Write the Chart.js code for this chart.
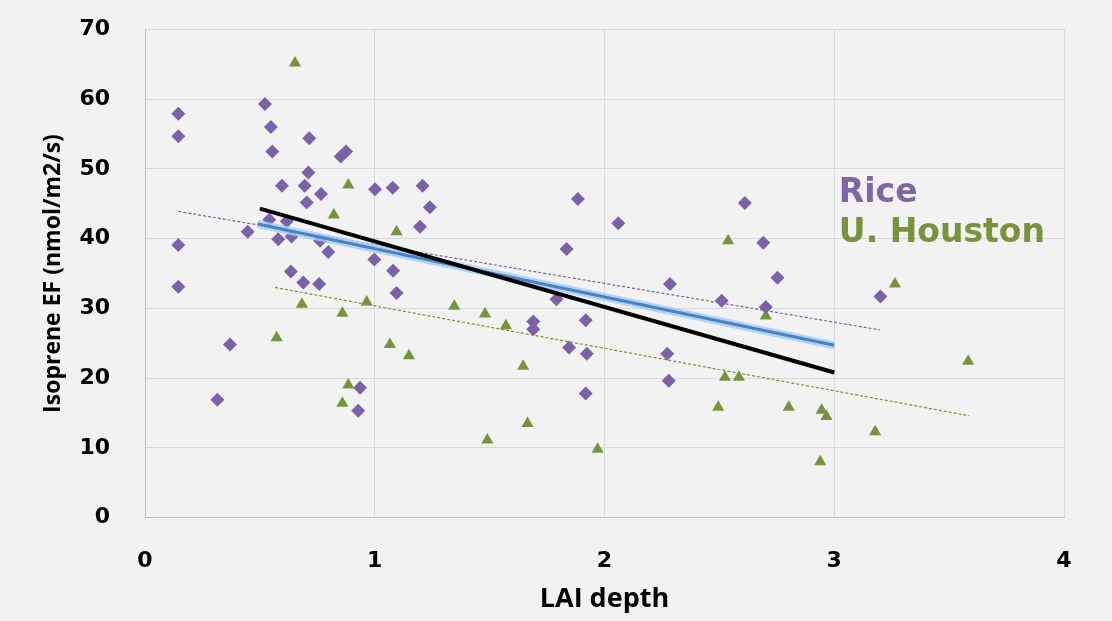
<!DOCTYPE html>
<html>
<head>
<meta charset="utf-8">
<script src="https://cdn.jsdelivr.net/npm/chart.js@4.4.0/dist/chart.umd.min.js"></script>
<style>
  body { margin: 0; background: #f2f2f2; }
  #wrap { width: 1112px; height: 621px; }
</style>
</head>
<body>
<div id="wrap"><canvas id="isopreneChart"></canvas></div>
<script>
// Rice measurements (purple diamonds)
const riceX = [0.145, 0.145, 0.522, 0.548, 0.715, 0.554, 0.852, 0.875, 0.711, 0.596, 0.695, 0.766, 0.704, 1.001, 1.078,
    0.541, 0.617, 0.447, 0.580, 0.638, 0.762, 0.798, 0.145, 0.998, 1.080, 0.635, 0.689, 0.758, 1.095, 0.145,
    0.370, 0.315, 0.936, 0.928, 1.208, 1.240, 1.197, 1.884, 2.060, 1.835, 1.791, 1.690, 1.690, 1.918, 1.846,
    1.923, 1.918, 2.611, 2.691, 2.753, 2.285, 2.510, 2.702, 3.201, 2.273, 2.280];
const riceY = [57.9, 54.7, 59.3, 56.0, 54.4, 52.5, 51.8, 52.5, 49.5, 47.6, 47.6, 46.4, 45.2, 47.1, 47.3,
    42.7, 42.5, 41.0, 39.9, 40.3, 39.7, 38.1, 39.1, 37.0, 35.4, 35.3, 33.7, 33.5, 32.2, 33.1,
    24.8, 16.9, 18.6, 15.3, 47.6, 44.5, 41.7, 45.7, 42.2, 38.5, 31.3, 28.1, 27.0, 28.3, 24.4,
    23.5, 17.8, 45.1, 39.4, 34.4, 33.5, 31.1, 30.2, 31.7, 23.5, 19.6];

// U. Houston measurements (green triangles)
const houstonX = [0.653, 0.885, 0.822, 1.095, 0.683, 0.859, 0.965, 0.573, 1.066, 0.885, 0.859, 1.346, 1.480, 1.571,
    1.149, 1.646, 1.665, 1.490, 1.970, 2.538, 2.702, 3.264, 2.524, 2.585, 2.495, 2.802, 2.945, 2.966, 3.178, 2.939, 3.583];
const houstonY = [65.2, 47.7, 43.4, 41.0, 30.6, 29.3, 30.9, 25.8, 24.8, 19.0, 16.4, 30.3, 29.2, 27.5,
    23.2, 21.7, 13.5, 11.1, 9.8, 39.7, 28.9, 33.5, 20.1, 20.1, 15.8, 15.8, 15.4, 14.5, 12.3, 8.0, 22.4];

// trend lines (end points)
const riceTrendX = [0.145, 3.2];
const riceTrendY = [43.9, 26.9];
const houstonTrendX = [0.566, 3.587];
const houstonTrendY = [33.0, 14.6];
const allTrendX = [0.5, 3.0];
const allTrendY = [44.3, 20.8];
const blueTrendX = [0.49, 3.0];
const blueTrendY = [42.1, 24.7];

const xTicks = [0, 1, 2, 3, 4];
const yTicks = [0, 10, 20, 30, 40, 50, 60, 70];

const labels = [
    { text: 'Rice', x: 3.02, y: 45.3, color: '#7b66a6' },
    { text: 'U. Houston', x: 3.02, y: 39.5, color: '#77933c' }
];

function toPoints(xs, ys) {
    return xs.map((x, i) => ({ x: x, y: ys[i] }));
}

const textLabels = {
    id: 'textLabels',
    afterDatasetsDraw(chart) {
        const ctx = chart.ctx;
        const xs = chart.scales.x, ys = chart.scales.y;
        ctx.save();
        ctx.font = 'bold 33px "DejaVu Sans"';
        ctx.textAlign = 'left';
        ctx.textBaseline = 'alphabetic';
        labels.forEach(l => {
            ctx.fillStyle = l.color;
            ctx.fillText(l.text, xs.getPixelForValue(l.x), ys.getPixelForValue(l.y));
        });
        ctx.restore();
    }
};

const ctx = document.getElementById('isopreneChart').getContext('2d');
new Chart(ctx, {
    type: 'scatter',
    data: {
        datasets: [
            {
                label: 'All',
                data: toPoints(allTrendX, allTrendY),
                showLine: true, borderColor: '#000', borderWidth: 4, pointRadius: 0, order: 1
            },
            {
                label: 'Blue',
                data: toPoints(blueTrendX, blueTrendY),
                showLine: true, borderColor: '#4a82c6', borderWidth: 3, pointRadius: 0, order: 2
            },
            {
                label: 'Blue glow',
                data: toPoints(blueTrendX, blueTrendY),
                showLine: true, borderColor: 'rgba(160,205,240,0.8)', borderWidth: 8, pointRadius: 0, order: 3
            },
            {
                label: 'Rice trend',
                data: toPoints(riceTrendX, riceTrendY),
                showLine: true, borderColor: '#8064a2', borderWidth: 1.2, borderDash: [3, 2], pointRadius: 0, order: 4
            },
            {
                label: 'Houston trend',
                data: toPoints(houstonTrendX, houstonTrendY),
                showLine: true, borderColor: '#77933c', borderWidth: 1.2, borderDash: [3, 2], pointRadius: 0, order: 5
            },
            {
                label: 'Rice',
                data: toPoints(riceX, riceY),
                pointStyle: 'rectRot', pointRadius: 7, pointHoverRadius: 7,
                backgroundColor: '#7b62a8', borderColor: '#7b62a8', borderWidth: 0, order: 6
            },
            {
                label: 'U. Houston',
                data: toPoints(houstonX, houstonY),
                pointStyle: 'triangle', pointRadius: 7, pointHoverRadius: 7,
                backgroundColor: '#77933c', borderColor: '#77933c', borderWidth: 0, order: 7
            }
        ]
    },
    options: {
        responsive: true,
        maintainAspectRatio: false,
        animation: false,
        layout: { padding: { top: 29.5, right: 48, bottom: 0, left: 0 } },
        plugins: {
            legend: { display: false },
            tooltip: { enabled: false }
        },
        scales: {
            x: {
                type: 'linear',
                min: 0, max: 4,
                afterFit: scale => { scale.height = 103.5; scale.paddingLeft = 0; scale.paddingRight = 0; },
                afterBuildTicks: scale => { scale.ticks = xTicks.map(v => ({ value: v })); },
                grid: { color: '#d9d9d9', drawTicks: false },
                border: { color: '#bfbfbf' },
                ticks: { color: '#000', padding: 31, font: { family: 'DejaVu Sans', size: 22, weight: 'bold' } },
                title: {
                    display: true, text: 'LAI depth', color: '#000',
                    padding: { top: 0, bottom: 5 },
                    font: { family: 'Open Sans', size: 27, weight: 'bold' }
                }
            },
            y: {
                type: 'linear',
                min: 0, max: 70,
                // tick padding would otherwise push the plot area down
                afterFit: scale => { scale.width = 145; scale.paddingTop = 0; scale.paddingBottom = 0; },
                afterBuildTicks: scale => { scale.ticks = yTicks.map(v => ({ value: v })); },
                grid: { color: '#d9d9d9', drawTicks: false },
                border: { color: '#bfbfbf' },
                ticks: { color: '#000', padding: 35, font: { family: 'DejaVu Sans', size: 22, weight: 'bold' } },
                title: {
                    display: true, text: 'Isoprene EF (nmol/m2/s)', color: '#000',
                    padding: { top: 40, bottom: 0 },
                    font: { family: 'Open Sans', size: 23, weight: 'bold' }
                }
            }
        }
    },
    plugins: [textLabels]
});
</script>
</body>
</html>
